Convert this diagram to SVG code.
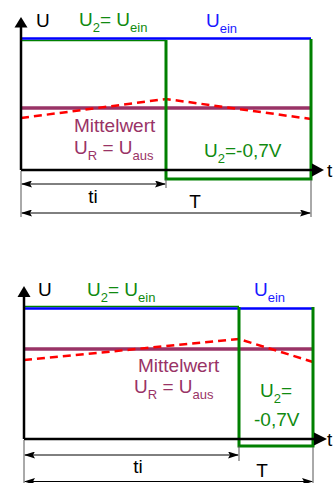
<svg xmlns="http://www.w3.org/2000/svg" width="333" height="483" viewBox="0 0 333 483">
<style>
text{font-family:"Liberation Sans",Arial,sans-serif;font-size:19px}
.sub{font-size:13px}
.blk{fill:#000}
.grn{fill:#108a10}
.blu{fill:#1a1aff}
.pur{fill:#993366}
.axis{stroke:#000;stroke-width:2.5;fill:none}
.ein{stroke:#0000ff;stroke-width:2.5;fill:none}
.u2{stroke:#008000;stroke-width:3;fill:none}
.u2t{stroke:#008000;stroke-width:1.5;fill:none}
.mw{stroke:#993366;stroke-width:3.5;fill:none}
.ur{stroke:#ff0000;stroke-width:2.5;stroke-dasharray:8,5;fill:none}
.dim{stroke:#000;stroke-width:1;fill:none}
.ext{stroke:#555;stroke-width:1;fill:none}
</style>
<defs>
<marker id="da" markerWidth="11" markerHeight="7" refX="10" refY="3.5" orient="auto-start-reverse" markerUnits="userSpaceOnUse">
<path d="M0,0 L11,3.5 L0,7 L2,3.5z" fill="#000"/>
</marker>
</defs>

<g id="top-diagram">
<g id="top-signals">
<path class="u2t" d="M21,40.5 H166"/>
<path class="ein" d="M21,38.5 H311"/>
<path class="mw" d="M21,108 H311"/>
<path class="ur" d="M21,118 L166,99 L311,119"/>
<path class="u2" d="M166,40 V179 H311 V39"/>
</g>
<g id="top-axes">
<path class="axis" d="M21,170 V26"/>
<polygon points="21,17 14.5,27.5 27.5,27.5" fill="#000"/>
<path class="axis" d="M21,170 H313"/>
<polygon points="324,170 312,163.5 312,176.5" fill="#000"/>
</g>
<g id="top-dimensions">
<path class="ext" d="M21,171 V217 M166,179 V188 M311,180 V217"/>
<path class="dim" d="M22,184 H165" marker-start="url(#da)" marker-end="url(#da)"/>
<path class="dim" d="M22,213 H310" marker-start="url(#da)" marker-end="url(#da)"/>
</g>
<g id="top-labels">
<text class="blk" x="36" y="27">U</text>
<text class="grn" x="79" y="26">U<tspan class="sub" dy="6">2</tspan><tspan dy="-6">= U</tspan><tspan class="sub" dy="6">ein</tspan></text>
<text class="blu" x="206" y="27">U<tspan class="sub" dy="6">ein</tspan></text>
<text class="pur" x="74" y="132">Mittelwert</text>
<text class="pur" x="74" y="154">U<tspan class="sub" dy="6">R</tspan><tspan dy="-6"> = U</tspan><tspan class="sub" dy="6">aus</tspan></text>
<text class="grn" x="204" y="157">U<tspan class="sub" dy="6">2</tspan><tspan dy="-6">=-0,7V</tspan></text>
<text class="blk" x="327" y="177">t</text>
<text class="blk" x="93" y="203" text-anchor="middle">ti</text>
<text class="blk" x="195" y="208" text-anchor="middle">T</text>
</g>
</g>

<g id="bottom-diagram">
<g id="bottom-signals">
<path class="u2t" d="M24,306.5 H239"/>
<path class="ein" d="M24,308.5 H313"/>
<path class="mw" d="M24,349 H313"/>
<path class="ur" d="M24,360 L239,339 L313,362"/>
<path class="u2" d="M239,307 V446 H313 V307"/>
</g>
<g id="bottom-axes">
<path class="axis" d="M24,439 V296"/>
<polygon points="24,286 17.5,297 30.5,297" fill="#000"/>
<path class="axis" d="M24,439 H315"/>
<polygon points="327,439 314,432.5 314,445.5" fill="#000"/>
</g>
<g id="bottom-dimensions">
<path class="ext" d="M24,440 V483 M239,446 V461 M313,447 V483"/>
<path class="dim" d="M25,455 H238" marker-start="url(#da)" marker-end="url(#da)"/>
<path class="dim" d="M25,481.5 H312" marker-start="url(#da)" marker-end="url(#da)"/>
</g>
<g id="bottom-labels">
<text class="blk" x="38" y="296">U</text>
<text class="grn" x="87" y="296">U<tspan class="sub" dy="6">2</tspan><tspan dy="-6">= U</tspan><tspan class="sub" dy="6">ein</tspan></text>
<text class="blu" x="254" y="296">U<tspan class="sub" dy="6">ein</tspan></text>
<text class="pur" x="138" y="372">Mittelwert</text>
<text class="pur" x="134" y="393">U<tspan class="sub" dy="6">R</tspan><tspan dy="-6"> = U</tspan><tspan class="sub" dy="6">aus</tspan></text>
<text class="grn" x="260" y="397">U<tspan class="sub" dy="6">2</tspan><tspan dy="-6">=</tspan></text>
<text class="grn" x="254" y="426">-0,7V</text>
<text class="blk" x="327" y="446">t</text>
<text class="blk" x="138" y="473" text-anchor="middle">ti</text>
<text class="blk" x="262" y="477" text-anchor="middle">T</text>
</g>
</g>
</svg>
